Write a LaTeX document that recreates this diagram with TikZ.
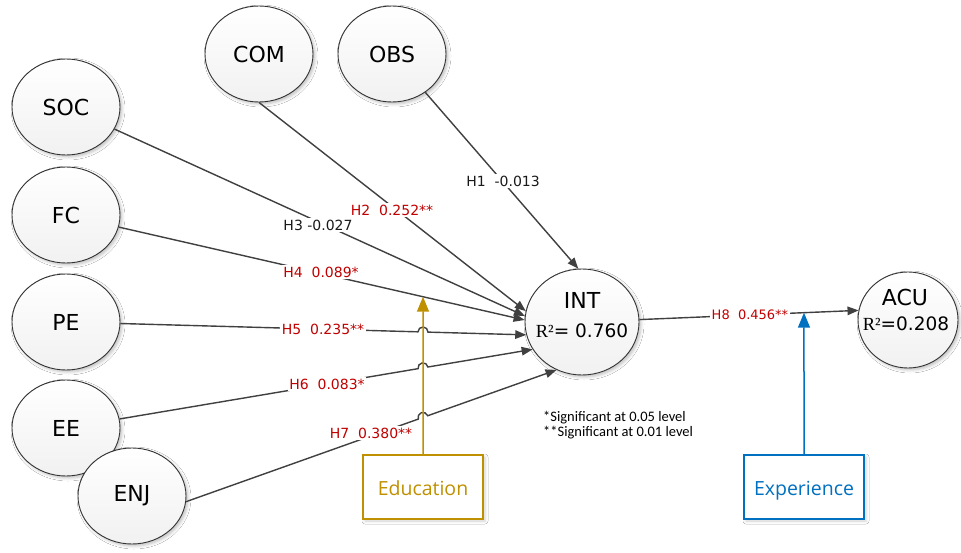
\documentclass[tikz,border=0pt]{standalone}
\usepackage{fontspec}
\setmainfont{DejaVu Sans}
\newfontfamily\legendfont{Carlito}
\newfontfamily\boxfont{Open Sans}
\newfontfamily\rfont{Liberation Serif}
\usetikzlibrary{arrows.meta,calc,shapes.geometric,shadows.blur}

\definecolor{linegray}{HTML}{404040}
\definecolor{labelred}{HTML}{C00000}
\definecolor{edugold}{HTML}{BF9000}
\definecolor{expblue}{HTML}{0070C0}

\newcommand{\rsq}{{\rfont R²}}

\begin{document}
\begin{tikzpicture}[x=1pt,y=-1pt,
  construct/.style={ellipse, draw=black!80, line width=0.9pt,
    minimum width=108pt, minimum height=96pt, inner sep=0pt,
    top color=white, bottom color=gray!11,
    blur shadow={shadow xshift=2pt, shadow yshift=-2pt,
      shadow blur radius=3pt, shadow opacity=25},
    font=\fontsize{22}{24}\selectfont},
  ctext/.style={inner sep=0pt, font=\fontsize{22}{24}\selectfont},
  rtext/.style={inner sep=0pt, font=\fontsize{18.5}{20}\selectfont},
  conn/.style={draw=linegray, line width=1.4pt,
    -{Triangle[length=11pt,width=8.5pt]}},
  hlabel/.style={fill=white, inner sep=1.5pt, text=labelred,
    font=\fontsize{14}{16}\selectfont},
  hlabelblack/.style={hlabel, text=black!90},
  modbox/.style={draw, line width=1.3pt, minimum width=120pt,
    minimum height=64pt, fill=white, text height=18pt, text depth=2pt,
    blur shadow={shadow xshift=2pt, shadow yshift=-2pt,
      shadow blur radius=3pt, shadow opacity=18},
    font=\boxfont\fontsize{19.5}{22}\selectfont},
  modarrow/.style={line width=1.5pt,
    -{Triangle[length=15pt,width=12pt]}}
]
\useasboundingbox (0,0) rectangle (961,553);
\fill[white] (0,0) rectangle (961,553);

% exogenous constructs
\node[construct] (SOC) at (66,107) {SOC};
\node[construct] (FC)  at (66,215) {FC};
\node[construct] (PE)  at (66,322) {PE};
\node[construct] (EE)  at (66,428) {EE};
\node[construct] (ENJ) at (132,496) {ENJ};
\node[construct] (COM) at (259,54) {COM};
\node[construct] (OBS) at (392,54) {OBS};

% endogenous constructs
\node[construct, minimum width=114pt, minimum height=106pt] (INT) at (582,322) {};
\node[ctext] (INTname) at (582,300) {INT};
\node[rtext] (INTr) at (582,331) {\rsq= 0.760};

\node[construct, minimum width=100pt, minimum height=96pt] (ACU) at (908,320) {};
\node[ctext] (ACUname) at (905,297) {ACU};
\node[rtext] (ACUr) at (906,324) {\rsq=0.208};

% moderators
\node[modbox, draw=edugold, text=edugold] (edu) at (423,487) {Education};
\node[modbox, draw=expblue, text=expblue] (exp) at (804,487) {Experience};

% crossing points with the Education line
\coordinate (j5) at (intersection of PE--INT.193 and edu.north--edu.south);
\coordinate (j6) at (intersection of EE--INT.209 and edu.north--edu.south);
\coordinate (j7) at (intersection of ENJ.354--INT.242 and edu.north--edu.south);
\coordinate (eduTip) at (intersection of FC--INT.178 and edu.north--edu.south);
\coordinate (expTip) at (intersection of INT--ACU.169 and exp.north--exp.south);

% structural paths
\draw[conn] (OBS) -- (INT.94);
\draw[conn] (COM.south) -- (INT.169);
\draw[conn] (SOC) -- (INT.174);
\draw[conn] (FC) -- (INT.178);
\draw[conn] let \p1=($(PE)-(j5)$), \n1={atan2(\y1,\x1)} in
  (PE) -- ($(j5)!5pt!(PE)$) arc[start angle=\n1, end angle=\n1-180, radius=5pt] -- (INT.193);
\draw[conn] let \p1=($(EE)-(j6)$), \n1={atan2(\y1,\x1)} in
  (EE) -- ($(j6)!5pt!(EE)$) arc[start angle=\n1, end angle=\n1-180, radius=5pt] -- (INT.209);
\draw[conn] let \p1=($(ENJ.354)-(j7)$), \n1={atan2(\y1,\x1)} in
  (ENJ.354) -- ($(j7)!5pt!(ENJ.354)$) arc[start angle=\n1, end angle=\n1-180, radius=5pt] -- (INT.242);
\draw[conn] (INT) -- (ACU.169);

% moderating effects
\draw[modarrow, edugold] (edu.north) -- (eduTip);
\draw[modarrow, expblue] (exp.north) -- (expTip);

% path coefficients
\node[hlabelblack] (h1) at (503,181) {H1\ \ -0.013};
\node[hlabel] (h2) at (392,210) {H2\ \ 0.252**};
\node[hlabelblack] (h3) at (318,225) {H3 -0.027};
\node[hlabel] (h4) at (321,272) {H4\ \ 0.089*};
\node[hlabel] (h5) at (323,329) {H5\ \ 0.235**};
\node[hlabel] (h6) at (327,384) {H6\ \ 0.083*};
\node[hlabel] (h7) at (371,433) {H7\ \ 0.380**};
\node[hlabel, font=\fontsize{13}{15}\selectfont] (h8) at (750,315) {H8\ \ 0.456**};

% significance note
\node[anchor=west, inner sep=0pt, align=left,
  font=\legendfont\fontsize{14.5}{15}\selectfont] (note) at (543,425)
  {*Significant at 0.05 level\\**Significant at 0.01 level};
\end{tikzpicture}
\end{document}
